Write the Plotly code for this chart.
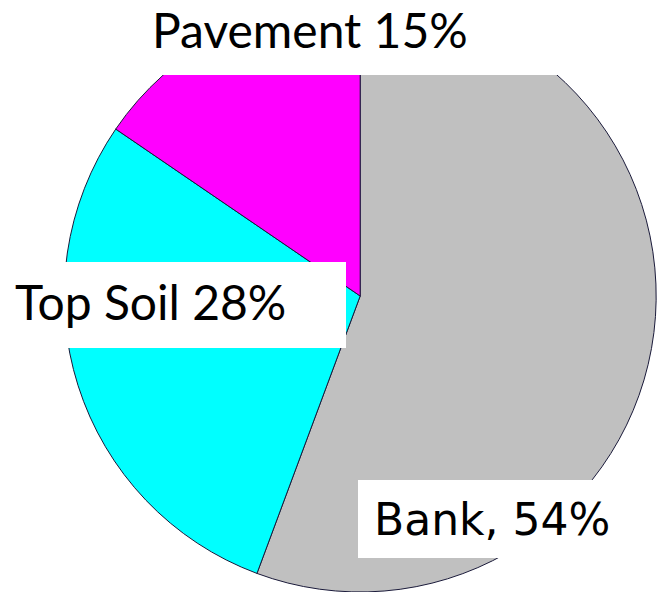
import plotly.graph_objects as go

# --- data ---
categories = ["Bank", "Top Soil", "Pavement"]
shares = [54, 28, 15]
label_texts = ["Bank, 54%", "Top Soil 28%", "Pavement 15%"]
slice_colors = ["#C0C0C0", "#00FFFF", "#FF00FF"]

W, H = 667, 592


def px(x, y):
    # pixel (from top-left) -> paper coords
    return x / W, 1 - y / H


fig = go.Figure(
    go.Pie(
        labels=categories,
        values=shares,
        sort=False,
        direction="clockwise",
        rotation=0,
        textinfo="none",
        hoverinfo="label+percent",
        marker=dict(colors=slice_colors, line=dict(color="#1a1a3a", width=1)),
        domain=dict(x=[0.08, 1.0], y=[0.0, 1.0]),
        showlegend=False,
    )
)

# white label boxes (pixel boxes: x0, y0, x1, y1)
boxes = [
    (358, 480, 633, 558),  # Bank
    (0, 262, 346, 348),  # Top Soil
    (50, 0, 565, 75),  # Pavement
]
for x0, y0, x1, y1 in boxes:
    ax0, ay1 = px(x0, y0)
    ax1, ay0 = px(x1, y1)
    fig.add_shape(
        type="rect", xref="paper", yref="paper",
        x0=ax0, x1=ax1, y0=ay0, y1=ay1,
        fillcolor="white", line=dict(width=0), layer="above",
    )

# label texts
text_specs = [
    # (x px, y px, xanchor, font family, size)
    (492, 519, "center", "DejaVu Sans", 44),
    (13, 301, "left", "Lato", 48),
    (310, 30, "center", "Lato", 48),
]
for txt, (x, y, xa, fam, size) in zip(label_texts, text_specs):
    ax, ay = px(x, y)
    fig.add_annotation(
        x=ax, y=ay, xref="paper", yref="paper",
        xanchor=xa, yanchor="middle",
        text=txt, showarrow=False,
        font=dict(family=fam, size=size, color="black"),
    )

fig.update_layout(
    width=W,
    height=H,
    margin=dict(l=0, r=0, t=0, b=0),
    paper_bgcolor="white",
    plot_bgcolor="white",
)

fig.write_html(
    "out.html",
    config={"displayModeBar": False},
    post_script="document.body.style.margin='0';",
)
